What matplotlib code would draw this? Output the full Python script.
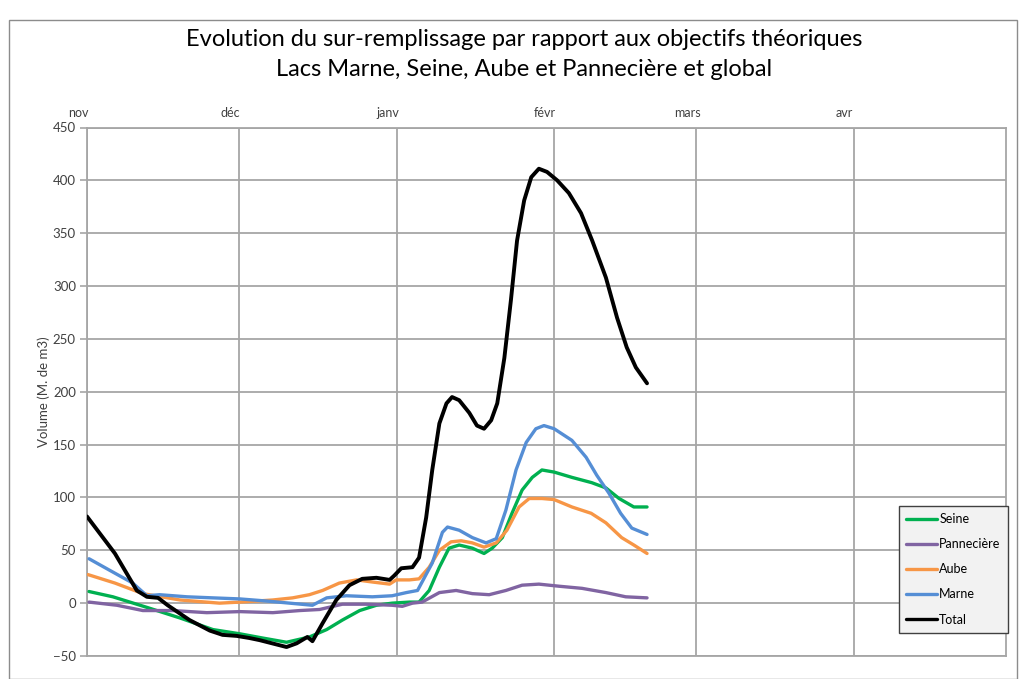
import datetime as dt
import matplotlib
matplotlib.use("Agg")
import matplotlib.pyplot as plt
import matplotlib.dates as mdates
from matplotlib.transforms import ScaledTranslation
from matplotlib.patches import Rectangle

plt.rcParams['font.family'] = ['Lato', 'DejaVu Sans']

# ---- data (days since 1 Nov 2017, volume in M. de m3) ----
base_date = dt.date(2017, 11, 1)

seine_days = [0.4, 5.1, 11.8, 18.3, 24.8, 30.1, 34.6, 39.3, 43.8, 47.2, 50.3, 53.7, 57, 60.1,
              63.5, 65.4, 67.4, 69.4, 71.3, 73.3, 75.9, 78.2, 79.8, 81.8, 83.7, 85.7, 87.7,
              89.6, 92, 95.5, 99.4, 102.2, 104.8, 107.7, 110.3]
seine_vals = [11, 6, -4, -14, -25, -29, -33, -37, -32, -25, -16, -7, -2, 0,
              1, 1, 12, 34, 52, 55, 52, 47, 52, 62, 85, 107, 119,
              126, 124, 119, 114, 109, 99, 91, 91]

pann_days = [0.4, 5.9, 11, 16.9, 23.6, 30.1, 36.6, 41.9, 45.8, 50.3, 55, 60.1, 62.1, 64.1,
             66.0, 69.4, 72.7, 75.9, 79.2, 82.5, 85.7, 89, 93, 97.5, 102.2, 106.1, 110.3]
pann_vals = [1, -2, -7, -7, -9, -8, -9, -7, -6, -1, -1, -2, -3, 0,
             1, 10, 12, 9, 8, 12, 17, 18, 16, 14, 10, 6, 5]

aube_days = [0.2, 5.5, 11, 18.3, 26.1, 30.1, 36.6, 40.5, 43.8, 46.4, 49.7, 53.1, 56.2, 59.6,
             60.9, 63.5, 65.4, 67.4, 69.4, 71.7, 73.7, 75.9, 78.2, 80.6, 82.7, 85.1, 87.1,
             89.6, 92, 95.5, 99.3, 102.2, 105.3, 107.7, 110.3]
aube_vals = [27, 19, 9, 3, 0, 1, 3, 5, 8, 12, 19, 22, 20, 18,
             22, 22, 23, 34, 50, 58, 59, 57, 53, 57, 69, 91, 99,
             99, 98, 91, 85, 76, 62, 55, 47]

marne_days = [0.4, 4.5, 9, 11.8, 14.3, 19.7, 24.8, 30.1, 35.4, 39.9, 44.4, 47.2, 51.1, 56.2,
              60.1, 62.9, 65.1, 68, 70, 71, 73.3, 75.9, 78.6, 80.6, 82.5, 84.5, 86.5, 88.4,
              90, 92, 95.5, 98.3, 100.4, 102.8, 105.1, 107.3, 110.3]
marne_vals = [42, 31, 19, 7, 8, 6, 5, 4, 2, 0, -2, 5, 7, 6,
              7, 10, 12, 38, 67, 72, 69, 62, 57, 61, 88, 126, 152, 165,
              168, 165, 154, 138, 121, 104, 85, 71, 65]

total_days = [0, 5.5, 9.8, 11.8, 14, 15.9, 20.2, 24.2, 26.7, 29.5, 32, 34, 39.3, 41.3, 43.4,
              44.4, 46.4, 49.1, 51.7, 54.2, 57, 59.6, 60.5, 61.9, 64.1, 65.4, 66.8, 68, 69.4,
              70.8, 71.9, 73.3, 75.3, 76.8, 78.2, 79.6, 80.8, 82.2, 83.5, 84.7, 86.1, 87.5,
              89, 90.6, 92.6, 94.9, 97.3, 99.5, 102.2, 104.4, 106.3, 108.1, 110.3]
total_vals = [82, 47, 12, 6, 5, -2, -16, -26, -30, -31, -33, -35, -41.5, -38, -32,
              -36, -19, 3, 17, 23, 24, 22, 26, 33, 34, 43, 81, 126, 170,
              189, 195, 192, 180, 168, 165, 173, 189, 232, 287, 343, 381, 403,
              411, 408, 400, 388, 369, 343, 308, 270, 242, 223, 208]

series_names = ['Seine', 'Pannecière', 'Aube', 'Marne', 'Total']
series_colors = ['#00b050', '#8064a2', '#f79646', '#558ed5', '#000000']

month_ticks = [dt.date(2017, 11, 1), dt.date(2017, 12, 1), dt.date(2018, 1, 1),
               dt.date(2018, 2, 1), dt.date(2018, 3, 1), dt.date(2018, 4, 1)]
month_labels = ['nov', 'déc', 'janv', 'févr', 'mars', 'avr']
x_end = dt.date(2018, 5, 1)
y_ticks = [-50, 0, 50, 100, 150, 200, 250, 300, 350, 400, 450]

# ---- figure ----
W, H = 1027, 679
fig = plt.figure(figsize=(W / 100, H / 100), dpi=100)
fig.patches.append(Rectangle((8.5 / W, 0), (1017 - 8.5) / W, 1 - 20 / H,
                             transform=fig.transFigure, fill=False,
                             edgecolor='#8c8c8c', linewidth=1.0))

ax = fig.add_axes([87 / W, 1 - 656 / H, (1006 - 87) / W, (656 - 127.5) / H])

b0 = mdates.date2num(base_date)
series = [(seine_days, seine_vals), (pann_days, pann_vals), (aube_days, aube_vals),
          (marne_days, marne_vals), (total_days, total_vals)]
for (d, v), name, col in zip(series, series_names, series_colors):
    lw = 2.8 if name == 'Total' else 2.4
    ax.plot([b0 + di for di in d], v, color=col, lw=lw, label=name,
            solid_joinstyle='round', solid_capstyle='round', zorder=3)

ax.set_xlim(mdates.date2num(base_date), mdates.date2num(x_end))
ax.set_ylim(-50, 450)
ax.set_yticks(y_ticks)
ax.set_xticks([mdates.date2num(m) for m in month_ticks])
ax.set_xticklabels(month_labels)

gcol = '#a6a6a6'
ax.grid(True, color=gcol, linewidth=1.3, zorder=0)
ax.set_axisbelow(True)
for s in ax.spines.values():
    s.set_color(gcol)
    s.set_linewidth(1.3)

ax.tick_params(axis='x', top=True, bottom=False, labeltop=True, labelbottom=False,
               length=0, pad=6, labelsize=9, labelcolor='#404040')
ax.tick_params(axis='y', length=5, color=gcol, width=1.2, pad=3, labelsize=9.5,
               labelcolor='#404040')
for lab in ax.get_xticklabels():
    lab.set_transform(lab.get_transform() + ScaledTranslation(-9 / 100, 0, fig.dpi_scale_trans))

ax.set_ylabel('Volume (M. de m3)', fontsize=9.5, color='#404040', labelpad=2)

fig.text(524 / W, 1 - 40 / H, 'Evolution du sur-remplissage par rapport aux objectifs théoriques',
         ha='center', va='center', fontsize=17, color='#000000')
fig.text(524 / W, 1 - 70 / H, 'Lacs Marne, Seine, Aube et Pannecière et global',
         ha='center', va='center', fontsize=17, color='#000000')

leg = ax.legend(loc='lower right', bbox_to_anchor=(1008 / W, 1 - 633 / H),
                bbox_transform=fig.transFigure, frameon=True, fancybox=False,
                fontsize=9, handlelength=2.5, handletextpad=0.15, labelspacing=1.05,
                borderpad=0.6, borderaxespad=0)
leg.get_frame().set_facecolor('#f2f2f2')
leg.get_frame().set_edgecolor('#404040')
leg.get_frame().set_linewidth(1.0)
leg.get_frame().set_alpha(1)
for line in leg.get_lines():
    line.set_linewidth(2.4)
leg.set_zorder(5)

fig.savefig('out.png', dpi=100)
